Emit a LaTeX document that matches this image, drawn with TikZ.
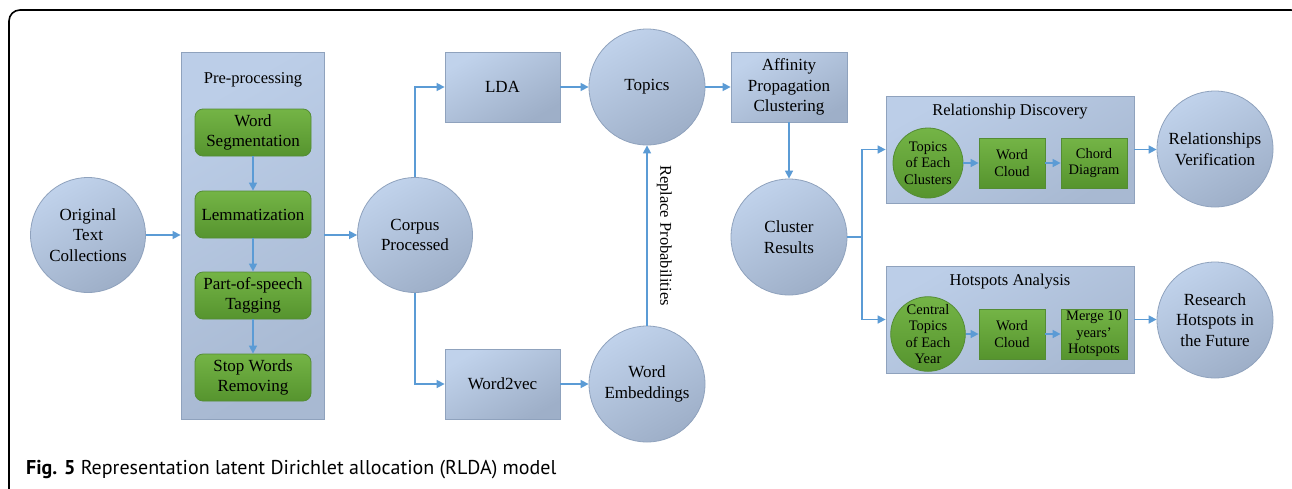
\documentclass[tikz,border=0pt]{standalone}
\usepackage{fontspec}
\setmainfont{Liberation Serif}
\newfontfamily\capfont{PT Sans}
\usetikzlibrary{arrows.meta}
\definecolor{bluetop}{RGB}{192,210,235}
\definecolor{bluebot}{RGB}{158,175,200}
\definecolor{blueedge}{RGB}{143,162,189}
\definecolor{paneltop}{RGB}{188,206,232}
\definecolor{panelbot}{RGB}{168,185,210}
\definecolor{greentop}{RGB}{116,180,70}
\definecolor{greenbot}{RGB}{86,148,46}
\definecolor{greenedge}{RGB}{84,140,52}
\definecolor{arrowblue}{RGB}{91,155,213}
\begin{document}
\begin{tikzpicture}[x=1pt,y=-1pt,
  bluecirc/.style={circle, draw=blueedge, line width=0.8pt, top color=bluetop, bottom color=bluebot, shading angle=30, minimum size=116pt, inner sep=0pt, align=center, font=\fontsize{17}{20.5}\selectfont},
  bluebox/.style={rectangle, draw=blueedge, line width=0.8pt, top color=bluetop, bottom color=bluebot, shading angle=30, minimum width=115pt, minimum height=70pt, inner sep=0pt, align=center, font=\fontsize{17}{20.5}\selectfont},
  panel/.style={rectangle, draw=blueedge, line width=0.8pt, top color=paneltop, bottom color=panelbot, shading angle=30, inner sep=0pt},
  gbox/.style={rectangle, rounded corners=8pt, draw=greenedge, line width=0.8pt, top color=greentop, bottom color=greenbot, minimum width=116pt, minimum height=47pt, inner sep=0pt, align=center, font=\fontsize{17}{20.5}\selectfont},
  gsq/.style={rectangle, draw=greenedge, line width=0.8pt, top color=greentop, bottom color=greenbot, minimum width=66pt, minimum height=50pt, inner sep=0pt, align=center, font=\fontsize{14.5}{16.5}\selectfont},
  gcirc/.style={circle, draw=greenedge, line width=0.8pt, top color=greentop, bottom color=greenbot, minimum size=70pt, inner sep=0pt, align=center, font=\fontsize{14.5}{16.5}\selectfont},
  ttl/.style={font=\fontsize{16.5}{20}\selectfont, inner sep=0pt},
  arr/.style={draw=arrowblue, line width=1.5pt, -{Triangle[length=8pt,width=8pt]}},
  ln/.style={draw=arrowblue, line width=1.5pt}
]
\useasboundingbox (0,0) rectangle (1292,488);
\fill[white] (0,0) rectangle (1292,488);
\begin{scope}
\clip (0,0) rectangle (1292,488);
\draw[line width=1.6pt, rounded corners=11pt] (9,520) -- (9,10) -- (1302,10) -- (1302,520);
\end{scope}

% left part
\node[bluecirc, minimum size=115pt] (orig) at (88,235) {Original\\Text\\Collections};
\node[panel, minimum width=143pt, minimum height=367pt] (pre) at (252.5,235.5) {};
\node[ttl] (pretitle) at (253,80) {Pre-processing};
\node[gbox] (ws) at (253,132.5) {Word\\Segmentation};
\node[gbox] (lem) at (253,214.5) {Lemmatization};
\node[gbox] (pos) at (253,295.5) {Part-of-speech\\Tagging};
\node[gbox] (sw) at (253,377.5) {Stop Words\\Removing};
\node[bluecirc, minimum size=115pt] (corpus) at (415,235) {Corpus\\Processed};

% middle
\node[bluebox] (lda) at (502.5,87) {LDA};
\node[bluebox] (w2v) at (502.5,384) {Word2vec};
\node[bluecirc] (topics) at (647,87) {Topics};
\node[bluecirc] (we) at (647,384) {Word\\Embeddings};
\node[bluebox, minimum width=116pt] (apc) at (789,87) {Affinity\\Propagation\\Clustering};
\node[bluecirc] (cluster) at (789,237) {Cluster\\Results};

% right part
\node[panel, minimum width=248pt, minimum height=107pt] (rd) at (1010,149.5) {};
\node[ttl] (rdtitle) at (1010,112) {Relationship Discovery};
\node[gcirc] (tec) at (928,163) {Topics\\of Each\\Clusters};
\node[gsq] (wc1) at (1012,163) {Word\\Cloud};
\node[gsq] (chord) at (1094,163) {Chord\\Diagram};
\node[bluecirc] (rv) at (1215,149) {Relationships\\Verification};

\node[panel, minimum width=248pt, minimum height=107pt] (ha) at (1010,319.5) {};
\node[ttl] (hatitle) at (1010,282) {Hotspots Analysis};
\node[gcirc] (cty) at (928,334) {Central\\Topics\\of Each\\Year};
\node[gsq] (wc2) at (1012,334) {Word\\Cloud};
\node[gsq] (merge) at (1094,334) {Merge 10\\years'\\Hotspots};
\node[bluecirc] (rh) at (1215,320) {Research\\Hotspots in\\the Future};

% arrows
\draw[arr] (orig.east) -- (orig.east -| pre.west);
\draw[arr] (ws) -- (lem);
\draw[arr] (lem) -- (pos);
\draw[arr] (pos) -- (sw);
\draw[arr] (corpus.west -| pre.east) -- (corpus.west);
\draw[arr] (corpus.north) |- (lda.west);
\draw[arr] (corpus.south) |- (w2v.west);
\draw[arr] (lda) -- (topics);
\draw[arr] (w2v) -- (we);
\draw[arr] (we) -- node[right=9pt, rotate=-90, anchor=south, inner sep=0pt, font=\fontsize{16.5}{20}\selectfont] {Replace Probabilities} (topics);
\draw[arr] (topics) -- (apc);
\draw[arr] (apc) -- (cluster);
\coordinate (br) at (862,237);
\draw[ln] (cluster.east) -- (br);
\draw[arr] (br) |- (rd.west);
\draw[arr] (br) |- (ha.west);
\draw[arr] (tec) -- (wc1);
\draw[arr] (wc1) -- (chord);
\draw[arr] (cty) -- (wc2);
\draw[arr] (wc2) -- (merge);
\draw[arr] (rd.east) -- (rd.east -| rv.west);
\draw[arr] (ha.east) -- (ha.east -| rh.west);

% caption
\node[anchor=base west, inner sep=0pt, font=\capfont\fontsize{20}{24}\selectfont] (cap) at (26,474) {\textbf{Fig. 5} Representation latent Dirichlet allocation (RLDA) model};
\end{tikzpicture}
\end{document}
